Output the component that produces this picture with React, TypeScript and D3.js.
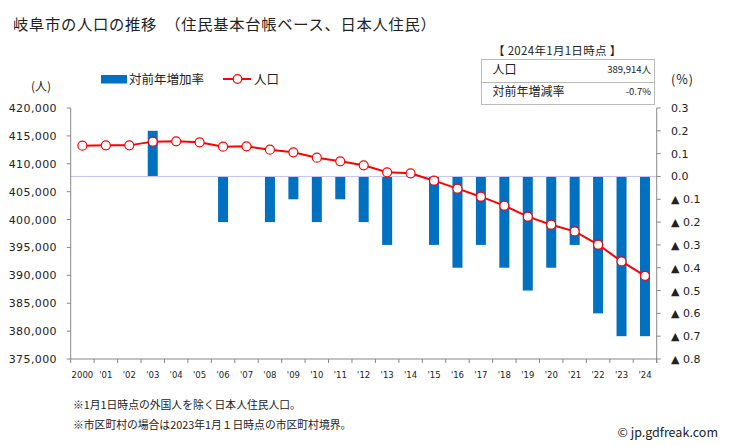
import React from 'react';
import * as d3 from 'd3';

const years = ['2000', "'01", "'02", "'03", "'04", "'05", "'06", "'07", "'08", "'09", "'10", "'11", "'12", "'13", "'14", "'15", "'16", "'17", "'18", "'19", "'20", "'21", "'22", "'23", "'24"];
const population = [413240, 413310, 413300, 413970, 414030, 413850, 413060, 413130, 412530, 412050, 411090, 410440, 409720, 408470, 408290, 406970, 405540, 404100, 402490, 400520, 399080, 397880, 395500, 392500, 389914];
const rate = [0, 0, 0, 0.2, 0, 0, -0.2, 0, -0.2, -0.1, -0.2, -0.1, -0.2, -0.3, 0, -0.3, -0.4, -0.3, -0.4, -0.5, -0.4, -0.3, -0.6, -0.7, -0.7];
const popTicks = [420000, 415000, 410000, 405000, 400000, 395000, 390000, 385000, 380000, 375000];
const rateTicks = [0.3, 0.2, 0.1, 0, -0.1, -0.2, -0.3, -0.4, -0.5, -0.6, -0.7, -0.8];

const title = '岐阜市の人口の推移　（住民基本台帳ベース、日本人住民）';
const dateLabel = '【 2024年1月1日時点 】';
const infoRows = [
  ['人口', '389,914人'],
  ['対前年増減率', '-0.7%'],
];
const legendBar = '対前年増加率';
const legendLine = '人口';
const notes = ['※1月1日時点の外国人を除く日本人住民人口。', '※市区町村の場合は2023年1月１日時点の市区町村境界。'];
const credit = '© jp.gdfreak.com';

const CJK = '"Noto Sans CJK JP", sans-serif';
const NUM = '"DejaVu Sans", Verdana, sans-serif';

export default function App() {
  const left = 70.7, right = 656.7, top = 108, bottom = 359;
  const x = d3.scaleBand<string>().domain(years).range([left, right]);
  const yPop = d3.scaleLinear().domain([375000, 420000]).range([bottom, top]);
  const yRate = d3.scaleLinear().domain([-0.8, 0.3]).range([bottom, top]);
  const cx = (i: number) => (x(years[i]) as number) + x.bandwidth() / 2;
  const barW = 10;
  const line = d3.line<number>().x((_, i) => cx(i)).y((d) => yPop(d));
  const fmt = d3.format(',');
  const rateFmt = (v: number) => (v >= 0 ? v.toFixed(1) : '▲ ' + (-v).toFixed(1));
  const boundaries = d3.range(years.length + 1).map((i) => left + i * x.step());

  return (
    <svg width={729} height={446} style={{ position: 'absolute', left: 0, top: 0, display: 'block', background: '#fff' }}>
      <text x={13} y={30} fontFamily={CJK} fontSize={15.3} letterSpacing={0.7} fill="#222">{title}</text>

      {/* info box */}
      <text x={493} y={55} fontFamily={CJK} fontSize={11.5} letterSpacing={0.3} fill="#222">{dateLabel}</text>
      <rect x={481.5} y={59.5} width={173} height={45} fill="#fff" stroke="#bbb" strokeWidth={1} />
      <line x1={481.5} x2={654.5} y1={82.5} y2={82.5} stroke="#bbb" strokeWidth={1} />
      {infoRows.map((r, i) => (
        <g key={i}>
          <text x={492.5} y={74 + i * 22} fontFamily={CJK} fontSize={12} fill="#222">{r[0]}</text>
          <text x={651} y={73 + i * 22} fontFamily={CJK} fontSize={9.5} textAnchor="end" fill="#222">{r[1]}</text>
        </g>
      ))}

      {/* legend */}
      <rect x={101} y={75} width={26} height={8.5} fill="#0070C0" />
      <text x={129} y={84} fontFamily={CJK} fontSize={12.5} fill="#222">{legendBar}</text>
      <line x1={223} x2={251} y1={79} y2={79} stroke="#FF0000" strokeWidth={2} />
      <circle cx={237.5} cy={79} r={4.3} fill="#fff" stroke="#FF0000" strokeWidth={1.2} />
      <text x={254} y={84} fontFamily={CJK} fontSize={12.5} fill="#222">{legendLine}</text>

      {/* unit labels */}
      <text x={31} y={91} fontFamily={CJK} fontSize={12} fill="#222">(人)</text>
      <text x={671} y={84} fontFamily={CJK} fontSize={12.5} letterSpacing={1} fill="#222">(%)</text>

      {/* bars */}
      {rate.map((v, i) =>
        v === 0 ? null : (
          <rect key={i} x={cx(i) - barW / 2} width={barW} y={Math.min(yRate(v), yRate(0))} height={Math.abs(yRate(v) - yRate(0))} fill="#0070C0" />
        )
      )}
      <line x1={left} x2={right} y1={yRate(0)} y2={yRate(0)} stroke="#C4C4F4" strokeWidth={1} />

      {/* axes */}
      <line x1={left} x2={left} y1={top} y2={bottom} stroke="#888" />
      <line x1={right} x2={right} y1={top} y2={bottom + 4} stroke="#888" />
      <line x1={left} x2={right} y1={bottom} y2={bottom} stroke="#888" />
      {popTicks.map((t) => (
        <g key={t}>
          <line x1={left - 4} x2={left} y1={yPop(t)} y2={yPop(t)} stroke="#888" />
          <text x={57} y={yPop(t)} dy="0.36em" textAnchor="end" fontFamily={NUM} fontSize={11} letterSpacing={0.4} fill="#222">{fmt(t)}</text>
        </g>
      ))}
      {rateTicks.map((t) => (
        <g key={t}>
          <line x1={right} x2={right + 4} y1={yRate(t)} y2={yRate(t)} stroke="#888" />
          <text x={671} y={yRate(t)} dy="0.36em" fontFamily={NUM} fontSize={11} fill="#222">{rateFmt(t)}</text>
        </g>
      ))}
      {boundaries.map((b, i) => (
        <line key={i} x1={b} x2={b} y1={bottom} y2={bottom + 4} stroke="#888" />
      ))}
      {years.map((yv, i) => (
        <text key={yv} x={cx(i)} y={378} textAnchor="middle" fontFamily={NUM} fontSize={8.5} fill="#222">{yv}</text>
      ))}

      {/* population line */}
      <path d={line(population) || ''} fill="none" stroke="#FF0000" strokeWidth={2} />
      {population.map((v, i) => (
        <circle key={i} cx={cx(i)} cy={yPop(v)} r={4.5} fill="#fff" stroke="#FF0000" strokeWidth={1.2} />
      ))}

      {/* notes */}
      {notes.map((n, i) => (
        <text key={i} x={73} y={409 + i * 19.5} fontFamily={CJK} fontSize={10.8} fill="#222">{n}</text>
      ))}
      <text x={718} y={437} textAnchor="end" fontFamily={CJK} fontSize={12.5} fill="#222">{credit}</text>
    </svg>
  );
}
